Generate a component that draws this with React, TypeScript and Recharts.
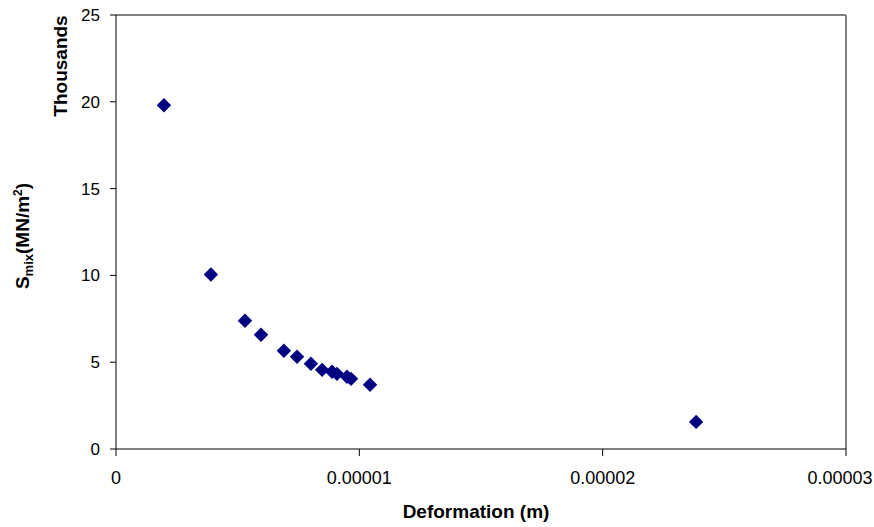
import { ScatterChart, Scatter, XAxis, YAxis, ReferenceLine, Label } from "recharts";

// deformation (m) and S_mix (MN/m^2)
const deformation = [
  0.00000197, 0.0000039, 0.0000053, 0.00000596, 0.0000069, 0.00000744, 0.00000801,
  0.00000847, 0.00000888, 0.00000908, 0.00000949, 0.00000966, 0.00001044, 0.00002384,
];
const smix = [
  19800, 10050, 7390, 6580, 5660, 5310, 4910, 4560, 4450, 4330, 4160, 4040, 3700, 1560,
];
const xTicks = [0, 0.00001, 0.00002, 0.00003];
const yTicks = [0, 5000, 10000, 15000, 20000, 25000];

const data = deformation.map((d, i) => ({ x: d, y: smix[i] }));

const font = "'Liberation Sans', Arial, Helvetica, sans-serif";
const navy = "#000080";

function Diamond(props: any) {
  const { cx, cy } = props;
  const r = 7.2;
  return (
    <polygon
      points={`${cx},${cy - r} ${cx + r},${cy} ${cx},${cy + r} ${cx - r},${cy}`}
      fill={navy}
    />
  );
}

// keeps the last label inside the page
function XTick(props: any) {
  const { x, y, payload, index } = props;
  const v = payload.value as number;
  const label = v === 0 ? "0" : v.toFixed(5);
  const shift = index === xTicks.length - 1 ? -6 : 0;
  return (
    <text
      x={x + shift}
      y={y}
      dy="0.71em"
      textAnchor="middle"
      fontFamily={font}
      fontSize={18}
      fill="#000"
    >
      {label}
    </text>
  );
}

function YTitle() {
  return (
    <g fontFamily={font} fontWeight="bold" fill="#000">
      <text transform="translate(29,236) rotate(-90)" textAnchor="middle" fontSize={19}>
        <tspan>S</tspan>
        <tspan fontSize={13} dy={4}>mix</tspan>
        <tspan dy={-4}>(MN/m</tspan>
        <tspan fontSize={12} dy={-7}>2</tspan>
        <tspan dy={7}>)</tspan>
      </text>
      <text transform="translate(67,66) rotate(-90)" textAnchor="middle" fontSize={19}>
        Thousands
      </text>
    </g>
  );
}

function XTitle() {
  return (
    <text
      x={476}
      y={518}
      textAnchor="middle"
      fontFamily={font}
      fontWeight="bold"
      fontSize={19}
      fill="#000"
    >
      Deformation (m)
    </text>
  );
}

export default function App() {
  return (
    <div style={{ position: "absolute", left: 0, top: 0, background: "#fff" }}>
      <ScatterChart
        width={874}
        height={527}
        margin={{ top: 15, right: 28, bottom: 0, left: 0 }}
      >
        <XAxis
          type="number"
          dataKey="x"
          domain={[0, 0.00003]}
          ticks={xTicks}
          height={78}
          stroke="#000"
          tickSize={7}
          tickMargin={15}
          tick={<XTick />}
          interval={0}
          label={<Label content={<XTitle />} />}
        />
        <YAxis
          type="number"
          dataKey="y"
          domain={[0, 25000]}
          ticks={yTicks}
          tickFormatter={(v: number) => String(v / 1000)}
          width={116}
          stroke="#000"
          tickSize={6}
          tickMargin={10}
          tick={{ fill: "#000", fontSize: 17, fontFamily: font }}
          interval={0}
          label={<Label content={<YTitle />} />}
        />
        <ReferenceLine y={25000} stroke="#808080" strokeWidth={2} />
        <ReferenceLine x={0.00003} stroke="#808080" strokeWidth={2} />
        <Scatter data={data} fill={navy} shape={<Diamond />} isAnimationActive={false} />
      </ScatterChart>
    </div>
  );
}
